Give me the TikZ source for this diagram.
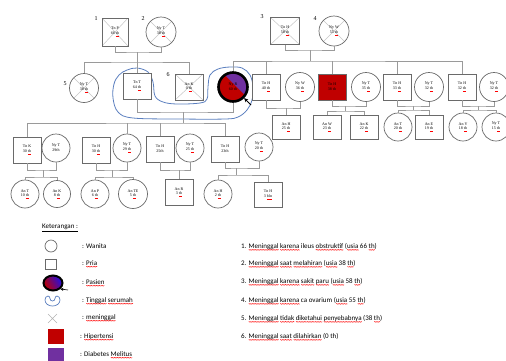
\documentclass[tikz,border=0pt]{standalone}
\usepackage{fontspec}
\setmainfont{Liberation Serif}
\newfontfamily\calib{Carlito}
\usetikzlibrary{arrows.meta,shapes.geometric,decorations.pathmorphing}
\definecolor{hyp}{HTML}{C00000}
\definecolor{dm}{HTML}{7030A0}
\definecolor{loopc}{HTML}{5B7FBF}
\definecolor{connc}{HTML}{9A9A9A}
\definecolor{symc}{HTML}{6A6A6A}
\newsavebox\rwbox
\newcommand\rw[1]{\leavevmode\sbox\rwbox{#1}\rlap{\raisebox{-1.8pt}{\tikz\draw[red, line width=0.35pt,
  decorate, decoration={zigzag, amplitude=0.4pt, segment length=1.6pt}] (0pt,0pt) -- (\wd\rwbox,0pt);}}\usebox\rwbox}
\newcommand\thu[1]{{\color{red}\underline{\color{black}#1}}}
\tikzset{
  conn/.style={draw=connc, line width=0.7pt},
  sym/.style={draw=symc, line width=0.7pt, fill=white, inner sep=0pt, align=center,
    font=\fontsize{4}{4.6}\selectfont},
  male/.style={sym, rectangle, minimum width=28pt, minimum height=26pt},
  female/.style={sym, circle, minimum size=29pt},
  dead/.style={path picture={\draw[gray!45, line width=0.5pt]
     (path picture bounding box.north west) -- (path picture bounding box.south east)
     (path picture bounding box.south west) -- (path picture bounding box.north east);}},
  patient/.style={circle, draw=black, line width=2.6pt, minimum size=29pt, inner sep=0pt,
    align=center, font=\fontsize{4}{4.6}\selectfont,
    path picture={\fill[hyp] (path picture bounding box.south west) rectangle (path picture bounding box.north east);
      \fill[dm] ([xshift=4pt]path picture bounding box.north west) -- (path picture bounding box.north east)
        -- ([yshift=4pt]path picture bounding box.south east) -- cycle;}},
  gen/.style={font=\fontsize{6}{7}\selectfont},
  leg/.style={font=\calib\fontsize{7}{8}\selectfont, anchor=west, inner sep=0pt},
}
\begin{document}
\begin{tikzpicture}[x=1pt,y=-1pt]
\useasboundingbox (0,0) rectangle (506,360);
% ---------- blue loop (tinggal serumah)
\draw[loopc, line width=0.8pt] plot[smooth cycle, tension=0.6] coordinates {
 (137,68) (148,72) (153,82) (155,96) (163,102) (177,104) (200,103) (207,99) (208,87)
 (210,75) (218,69) (230,67) (242,68) (250,75) (253,87) (252,100) (247,110) (238,117)
 (225,119) (180,119) (133,118) (118,112) (113,98) (114,84) (119,75) (127,70)};
% ---------- generation I
\node[male,dead,minimum width=26pt,minimum height=28pt] (p1) at (115,32) {Tn P\\66 \thu{th}};
\node[female,dead,minimum size=30pt] (p2) at (161,32) {Ny T\\38 \thu{th}};
\node[male,dead,minimum width=29pt,minimum height=27pt] (p3) at (285,31) {Tn H\\58 \thu{th}};
\node[female,dead,minimum size=30pt] (p4) at (334,31) {Ny W\\55 \thu{th}};
\node[gen] (n1) at (96,19) {1};
\node[gen] (n2) at (143,19) {2};
\node[gen] (n3) at (262,17) {3};
\node[gen] (n4) at (315,19) {4};
% ---------- generation II
\node[female,dead] (p5) at (84,88) {Ny T\\38 \thu{th}};
\node[gen] (n5) at (65,84) {5};
\node[male] (tnT) at (137,86) {Tn T\\64 \thu{th}};
\node[male,dead] (p6) at (189,87) {An K\\0 \thu{th}};
\node[gen] (n6) at (168,75) {6};
\node[patient] (pas) at (233,87) {Ny R\\60 th};
\node[male] (tnH40) at (266,87) {Tn H\\40 \thu{th}};
\node[female] (nyW36) at (300,87) {Ny W\\36 \thu{th}};
\node[male,fill=hyp] (tnH38) at (332,87) {Tn H\\38 th};
\node[female] (nyT35) at (366,87) {Ny T\\35 \thu{th}};
\node[male] (tnH33) at (397,87) {Tn H\\33 \thu{th}};
\node[female] (nyT32a) at (429,87) {Ny T\\32 \thu{th}};
\node[male] (tnH32) at (462,87) {Tn H\\32 \thu{th}};
\node[female] (nyT32b) at (494,87) {Ny T\\32 \thu{th}};
% children of the siblings
\node[male,minimum height=24pt] (anH25) at (286,127) {An H\\25 \thu{th}};
\node[male,minimum height=24pt] (anW23) at (327,127) {An W\\23 \thu{th}};
\node[male,minimum height=24pt] (anK22) at (364,127) {An K\\22 \thu{th}};
\node[female,minimum size=28pt] (anT20) at (398,127) {An T\\20 \thu{th}};
\node[male,minimum height=24pt] (anE19) at (429,127) {An E\\19 \thu{th}};
\node[female,minimum size=28pt] (anY18) at (463,127) {An Y\\18 \thu{th}};
\node[female,minimum size=28pt] (nyT15) at (496,127) {Ny T\\15 \thu{th}};
% ---------- generation III
\node[male] (tnK30) at (27,150) {Tn K\\30 \thu{th}};
\node[female,minimum size=28pt] (nyT29a) at (56,148) {Ny T\\29th};
\node[male] (tnH30) at (96,150) {Tn H\\30 \thu{th}};
\node[female,minimum size=28pt] (nyT29b) at (127,148) {Ny T\\29 \thu{th}};
\node[male] (tnH25) at (160,149) {Tn H\\25th};
\node[female,minimum size=28pt] (nyT25) at (190,148) {Ny T\\25 \thu{th}};
\node[male] (tnH23) at (225,149) {Tn H\\23th};
\node[female,minimum size=28pt] (nyT20) at (259,147) {Ny T\\20 \thu{th}};
% ---------- generation IV
\node[female,minimum size=28pt] (anT10) at (25,194) {An T\\10 \thu{th}};
\node[female,minimum size=27pt] (anK8) at (57,194) {An K\\8 \thu{th}};
\node[female,minimum size=28pt] (anP6) at (95,194) {An P\\6 \thu{th}};
\node[female,minimum size=29pt] (anTE5) at (133,194) {An TE\\5 \thu{th}};
\node[male] (anR3) at (179,192) {An R\\3 \thu{th}};
\node[female,minimum size=28pt] (anH2) at (218,194) {An H\\2 \thu{th}};
\node[male,minimum height=25pt] (tnH3) at (268,195) {Tn H\\3 \thu{bln}};
% ---------- connectors
\coordinate (c12) at (137,52);
\coordinate (s12) at (137,62);
\draw[conn] (p1.south) |- (c12) -| (p2.south);
\draw[conn] (c12) -- (tnT.north);
\draw[conn] (p5.north) |- (s12) -| (p6.north);
\coordinate (c34) at (310,50);
\coordinate (s34) at (310,61);
\draw[conn] (p3.south) |- (c34) -| (p4.south);
\draw[conn] (c34) -- (s34);
\draw[conn] (pas.north) |- (s34) -| (tnH32.north);
\draw[conn] (tnH40.north) -- (tnH40.north |- s34);
\draw[conn] (tnH38.north) -- (tnH38.north |- s34);
\draw[conn] (tnH33.north) -- (tnH33.north |- s34);
% couples of the siblings
\coordinate (c40) at (286,108);
\draw[conn] (tnH40.south) |- (c40) -| (nyW36.south);
\draw[conn] (c40) -- (anH25.north);
\coordinate (c38) at (345,106);
\coordinate (s38) at (345,111);
\draw[conn] (tnH38.south) |- (c38) -| (nyT35.south);
\draw[conn] (c38) -- (s38);
\draw[conn] (anW23.north) |- (s38) -| (anK22.north);
\coordinate (c33) at (413,106);
\coordinate (s33) at (413,110);
\draw[conn] (tnH33.south) |- (c33) -| (nyT32a.south);
\draw[conn] (c33) -- (s33);
\draw[conn] (anT20.north) |- (s33) -| (anE19.north);
\coordinate (c32) at (478,106);
\coordinate (s32) at (478,110);
\draw[conn] (tnH32.south) |- (c32) -| (nyT32b.south);
\draw[conn] (c32) -- (s32);
\draw[conn] (anY18.north) |- (s32) -| (nyT15.north);
% Tn T x patient
\coordinate (cTP) at (183,112);
\coordinate (sTP) at (183,123);
\draw[conn] (tnT.south) |- (cTP) -| (pas.south);
\draw[conn] (cTP) -- (sTP);
\draw[conn] (tnK30.north) |- (sTP) -| (tnH23.north);
\draw[conn] (nyT29b.north) -- (nyT29b.north |- sTP);
\draw[conn] (tnH25.north) -- (tnH25.north |- sTP);
% generation III couples
\coordinate (cK) at (43,170);
\coordinate (sK) at (43,177);
\draw[conn] (tnK30.south) |- (cK) -| (nyT29a.south);
\draw[conn] (cK) -- (sK);
\draw[conn] (anT10.north) |- (sK) -| (anK8.north);
\coordinate (cH30) at (112,170);
\coordinate (sH30) at (112,177);
\draw[conn] (tnH30.south) |- (cH30) -| (nyT29b.south);
\draw[conn] (cH30) -- (sH30);
\draw[conn] (anP6.north) |- (sH30) -| (anTE5.north);
\coordinate (cH25) at (179,170);
\draw[conn] (tnH25.south) |- (cH25) -| (nyT25.south);
\draw[conn] (cH25) -- (anR3.north);
\coordinate (cH23) at (236,168);
\coordinate (sH23) at (236,175);
\draw[conn] (tnH23.south) |- (cH23) -| (nyT20.south);
\draw[conn] (cH23) -- (sH23);
\draw[conn] (anH2.north) |- (sH23) -| (tnH3.north);
% patient arrow
\coordinate (arP) at (251,105);
\draw[black, line width=0.8pt, -{Stealth[length=4pt,width=4pt]}] (arP) -- (pas.south east);
% ---------- legend
\node[leg] (ket) at (42,228) {\underline{Keterangan :}};
\node[circle, draw=symc, line width=0.7pt, minimum size=12pt, inner sep=0pt] (lgW) at (51,246) {};
\node[rectangle, draw=symc, line width=0.7pt, minimum width=11pt, minimum height=10pt, inner sep=0pt] (lgP) at (51,264) {};
\node[ellipse, draw=black, line width=2pt, minimum width=19pt, minimum height=15pt, inner sep=0pt,
  left color=hyp, right color=blue!70!dm, shading angle=120] (lgPas) at (53,283) {};
\coordinate (arL) at (68,290);
\draw[black, line width=0.6pt, -{Stealth[length=3pt,width=3pt]}] (arL) -- (lgPas.south east);
\draw[loopc, line width=0.7pt] (48,296) to[out=180,in=90] (45,300) to[out=-90,in=180] (52.5,306)
  to[out=0,in=-90] (60,300) to[out=90,in=0] (57,296) to[out=180,in=90] (55,298.5)
  to[out=-90,in=0] (52.5,301) to[out=180,in=-90] (50,298.5) to[out=90,in=0] cycle;
\draw[gray!60, line width=0.6pt] (48,314) -- (57,323) (48,323) -- (57,314);
\node[rectangle, fill=hyp, minimum width=16pt, minimum height=15pt, inner sep=0pt] (lgH) at (56,336) {};
\node[rectangle, fill=dm, minimum width=16pt, minimum height=15pt, inner sep=0pt] (lgD) at (56,355) {};
\node[leg] (tW) at (82,246) {: Wanita};
\node[leg] (tP) at (82,264) {: \rw{Pria}};
\node[leg] (tPas) at (82,283) {: \rw{Pasien}};
\node[leg] (tS) at (82,301) {: \rw{Tinggal} \rw{serumah}};
\node[leg] (tM) at (82,318) {: \rw{meninggal}};
\node[leg] (tH) at (80,337) {: \rw{Hipertensi}};
\node[leg] (tD) at (80,355) {: Diabetes \rw{Melitus}};
% notes
\node[leg] (m1) at (241,247) {1. \rw{Meninggal} \rw{karena} ileus \rw{obstruktif} (\rw{usia} 66 \rw{th})};
\node[leg] (m2) at (241,264) {2. \rw{Meninggal} \rw{saat} \rw{melahiran} (\rw{usia} 38 \rw{th})};
\node[leg] (m3) at (241,282) {3. \rw{Meninggal} \rw{karena} \rw{sakit} \rw{paru} (\rw{usia} 58 \rw{th})};
\node[leg] (m4) at (241,301) {4. \rw{Meninggal} \rw{karena} ca ovarium (\rw{usia} 55 \rw{th})};
\node[leg] (m5) at (241,319) {5. \rw{Meninggal} \rw{tidak} \rw{diketahui} \rw{penyebabnya} (38 \rw{th})};
\node[leg] (m6) at (241,337) {6. \rw{Meninggal} \rw{saat} \rw{dilahirkan} (0 th)};
\end{tikzpicture}
\end{document}
